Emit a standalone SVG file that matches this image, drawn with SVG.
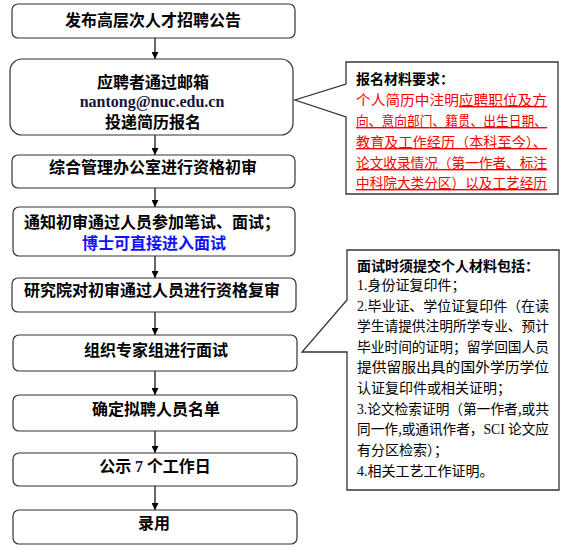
<svg xmlns="http://www.w3.org/2000/svg" width="570" height="555" viewBox="0 0 570 555">
<style>
.box{fill:#fff;stroke:#333;stroke-width:1.2}
.call{fill:#fff;stroke:#333;stroke-width:1.3}
.t{font-family:"Noto Sans CJK SC","Liberation Sans",sans-serif;font-weight:bold;font-size:16px;fill:#000;text-anchor:middle}
.lat{font-family:"Liberation Serif",serif;font-weight:bold}
.navy{fill:#14143c}
.blue{fill:#1010ff}
.c{font-family:"Noto Sans CJK SC","Liberation Sans",sans-serif;font-size:14px;fill:#000}
.cb{font-weight:bold}
.red{fill:#f00}
.ser{font-family:"Liberation Serif",serif}
.conn line{stroke:#000;stroke-width:1.2}
</style>
<defs>
<marker id="ah" markerWidth="8" markerHeight="7" refX="7" refY="3.5" orient="auto" markerUnits="userSpaceOnUse">
<path d="M0,0 L7,3.5 L0,7 Z" fill="#000"/>
</marker>
</defs>
<g id="connectors" class="conn">
<line x1="155" y1="38" x2="155" y2="59" marker-end="url(#ah)"/>
<line x1="155" y1="135" x2="155" y2="155" marker-end="url(#ah)"/>
<line x1="155" y1="188" x2="155" y2="207" marker-end="url(#ah)"/>
<line x1="155" y1="256" x2="155" y2="278" marker-end="url(#ah)"/>
<line x1="155" y1="312" x2="155" y2="335" marker-end="url(#ah)"/>
<line x1="155" y1="371" x2="155" y2="395" marker-end="url(#ah)"/>
<line x1="155" y1="431" x2="155" y2="453" marker-end="url(#ah)"/>
<line x1="155" y1="486" x2="155" y2="510" marker-end="url(#ah)"/>
</g>
<g id="n1"><rect class="box" x="12" y="4" width="283" height="34" rx="6"/><text class="t" x="153" y="26">发布高层次人才招聘公告</text></g>
<g id="n2"><rect class="box" x="10" y="59" width="283" height="76" rx="12"/>
<text class="t" x="153" y="88">应聘者通过邮箱</text>
<text class="t lat navy" x="152" y="107">nantong@nuc.edu.cn</text>
<text class="t" x="153" y="128">投递简历报名</text></g>
<g id="n3"><rect class="box" x="12" y="155" width="283" height="33" rx="6"/><text class="t" x="153" y="173">综合管理办公室进行资格初审</text></g>
<g id="n4"><rect class="box" x="13" y="207" width="282" height="49" rx="6"/>
<text class="t"><tspan x="152" y="228">通知初审通过人员参加笔试、面试；</tspan><tspan class="blue" x="154" y="249">博士可直接进入面试</tspan></text></g>
<g id="n5"><rect class="box" x="12" y="278" width="284" height="34" rx="6"/><text class="t" x="152" y="296">研究院对初审通过人员进行资格复审</text></g>
<g id="n6"><rect class="box" x="13" y="335" width="284" height="36" rx="6"/><text class="t" x="156" y="356">组织专家组进行面试</text></g>
<g id="n7"><rect class="box" x="13" y="395" width="284" height="36" rx="6"/><text class="t" x="156" y="415">确定拟聘人员名单</text></g>
<g id="n8"><rect class="box" x="13" y="453" width="284" height="33" rx="6"/><text class="t" x="155" y="472">公示 <tspan class="lat navy">7</tspan> 个工作日</text></g>
<g id="n9"><rect class="box" x="13" y="510" width="284" height="34" rx="6"/><text class="t" x="154" y="529">录用</text></g>
<g id="callout1">
<path class="call" d="M346,62 H558 V194 H346 V117 L295,100 L346,84 Z"/>
<text class="c cb" x="356" y="84" font-size="14.5">报名材料要求：</text>
<text class="c red" x="356" y="105" font-size="14.5" textLength="191" lengthAdjust="spacingAndGlyphs">个人简历中注明<tspan text-decoration="underline">应聘职位及方</tspan></text>
<text class="c red" x="356" y="126" font-size="14.5" textLength="191" lengthAdjust="spacingAndGlyphs" text-decoration="underline">向、意向部门、籍贯、出生日期、</text>
<text class="c red" x="356" y="147" font-size="14.5" textLength="191" lengthAdjust="spacingAndGlyphs" text-decoration="underline">教育及工作经历（本科至今）、</text>
<text class="c red" x="356" y="168" font-size="14.5" textLength="191" lengthAdjust="spacingAndGlyphs" text-decoration="underline">论文收录情况（第一作者、标注</text>
<text class="c red" x="356" y="188" font-size="14.5" textLength="191" lengthAdjust="spacingAndGlyphs" text-decoration="underline">中科院大类分区）以及工艺经历</text>
</g>
<g id="callout2">
<path class="call" d="M347,250 H559 V490 H347 V352 L302,352 L347,300 Z"/>
<text class="c cb" x="357" y="271" textLength="182" lengthAdjust="spacingAndGlyphs">面试时须提交个人材料包括：</text>
<text class="c" x="357" y="290"><tspan class="ser">1.</tspan>身份证复印件；</text>
<text class="c" x="357" y="310.6" textLength="192" lengthAdjust="spacingAndGlyphs"><tspan class="ser">2.</tspan>毕业证、学位证复印件（在读</text>
<text class="c" x="357" y="331" textLength="192" lengthAdjust="spacingAndGlyphs">学生请提供注明所学专业、预计</text>
<text class="c" x="357" y="351.8" textLength="192" lengthAdjust="spacingAndGlyphs">毕业时间的证明；留学回国人员</text>
<text class="c" x="357" y="372.4" textLength="192" lengthAdjust="spacingAndGlyphs">提供留服出具的国外学历学位</text>
<text class="c" x="357" y="393">认证复印件或相关证明；</text>
<text class="c" x="357" y="413.6" textLength="192" lengthAdjust="spacingAndGlyphs"><tspan class="ser">3.</tspan>论文检索证明（第一作者,或共</text>
<text class="c" x="357" y="434.4" textLength="192" lengthAdjust="spacingAndGlyphs">同一作,或通讯作者，<tspan class="ser">SCI </tspan>论文应</text>
<text class="c" x="357" y="455">有分区检索）；</text>
<text class="c" x="357" y="475.6"><tspan class="ser">4.</tspan>相关工艺工作证明。</text>
</g>
</svg>
